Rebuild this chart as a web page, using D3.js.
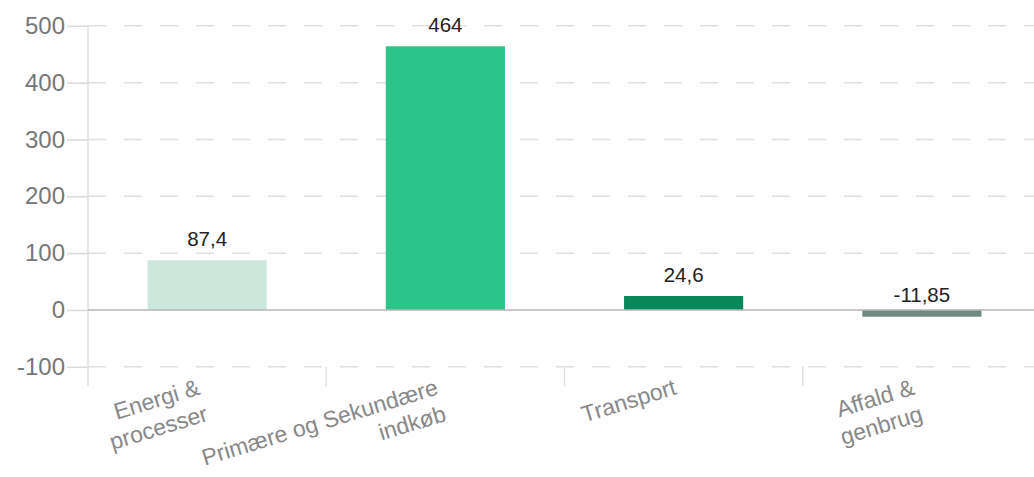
<!DOCTYPE html>
<html>
<head>
<meta charset="utf-8">
<script src="https://cdn.jsdelivr.net/npm/d3@7"></script>
<style>
  body { margin: 0; background: #fff; }
  svg { display: block; font-family: "Liberation Sans", Arial, sans-serif; }
</style>
</head>
<body>
<svg id="chart" width="1034" height="477"></svg>
<script>
// data
const categories = ["Energi & processer", "Primære og Sekundære indkøb", "Transport", "Affald & genbrug"];
const labelLines = [["Energi &", "processer"], ["Primære og Sekundære", "indkøb"], ["Transport"], ["Affald &", "genbrug"]];
const values = [87.4, 464, 24.6, -11.85];
const valueLabels = ["87,4", "464", "24,6", "-11,85"];
const barColors = ["#cce8dc", "#2dc48a", "#08875a", "#6f8a80"];
const yTicks = [-100, 0, 100, 200, 300, 400, 500];

const svg = d3.select("#chart");
const plotLeft = 88, plotRight = 1041, plotTop = 25.8, plotBottom = 366.8;

let x = d3.scaleBand().domain(categories).range([plotLeft, plotRight]).paddingInner(0.5).paddingOuter(0.25);
let xb = d3.scaleBand().domain(categories).range([plotLeft, plotRight]);
let y = d3.scaleLinear().domain([-100, 500]).range([plotBottom, plotTop]);

// horizontal grid
svg.append("g").selectAll("line")
    .data(yTicks.filter(d => d !== 0))
    .enter().append("line")
    .attr("x1", plotLeft).attr("x2", 1034)
    .attr("y1", d => y(d)).attr("y2", d => y(d))
    .attr("stroke", "#e0e0e0")
    .attr("stroke-width", 1.5)
    .attr("stroke-dasharray", "18,18");

// left axis with ticks
let yAxis = svg.append("g")
    .attr("transform", "translate(" + plotLeft + ",0)")
    .call(d3.axisLeft(y).tickValues(yTicks).tickSize(21).tickPadding(2).tickFormat(d => String(d)));
yAxis.select(".domain").remove();
yAxis.selectAll(".tick line").attr("stroke", "#d9d9d9").attr("stroke-width", 1.5);
yAxis.selectAll(".tick text")
    .attr("fill", "#777")
    .attr("font-size", "24px")
    .style("font-family", "'Liberation Sans', Arial, sans-serif");

// vertical line at left
svg.append("line")
    .attr("x1", plotLeft).attr("x2", plotLeft)
    .attr("y1", plotTop).attr("y2", 386)
    .attr("stroke", "#e0e0e0").attr("stroke-width", 1.5);

// category separator ticks
svg.append("g").selectAll("line")
    .data(categories.slice(1))
    .enter().append("line")
    .attr("x1", d => xb(d)).attr("x2", d => xb(d))
    .attr("y1", plotBottom).attr("y2", 386)
    .attr("stroke", "#e0e0e0").attr("stroke-width", 1.5);

// bars
svg.append("g").selectAll("rect")
    .data(values)
    .enter().append("rect")
    .attr("x", (d, i) => x(categories[i]))
    .attr("y", d => y(Math.max(d, 0)))
    .attr("width", x.bandwidth())
    .attr("height", d => Math.abs(y(d) - y(0)))
    .attr("fill", (d, i) => barColors[i]);

// zero line
svg.append("line")
    .attr("x1", plotLeft).attr("x2", 1034)
    .attr("y1", y(0)).attr("y2", y(0))
    .attr("stroke", "#b5b5b5").attr("stroke-width", 1.5);

// value labels
svg.append("g").selectAll("text")
    .data(values)
    .enter().append("text")
    .attr("x", (d, i) => x(categories[i]) + x.bandwidth() / 2)
    .attr("y", d => d >= 0 ? y(d) - 14 : y(0) - 8)
    .attr("text-anchor", "middle")
    .attr("font-size", "20.5px")
    .attr("fill", "#222")
    .text((d, i) => valueLabels[i]);

// rotated category labels
let cat = svg.append("g").selectAll("text")
    .data(labelLines)
    .enter().append("text")
    .attr("transform", (d, i) => "translate(" + (xb(categories[i]) + xb.bandwidth() / 2 - 6) + ",394) rotate(-17)")
    .attr("text-anchor", "end")
    .attr("font-size", "23px")
    .attr("fill", "#888");
cat.selectAll("tspan")
    .data(d => d)
    .enter().append("tspan")
    .attr("x", 0)
    .attr("dy", (d, i) => i === 0 ? "0" : "1.2em")
    .text(d => d);
</script>
</body>
</html>
